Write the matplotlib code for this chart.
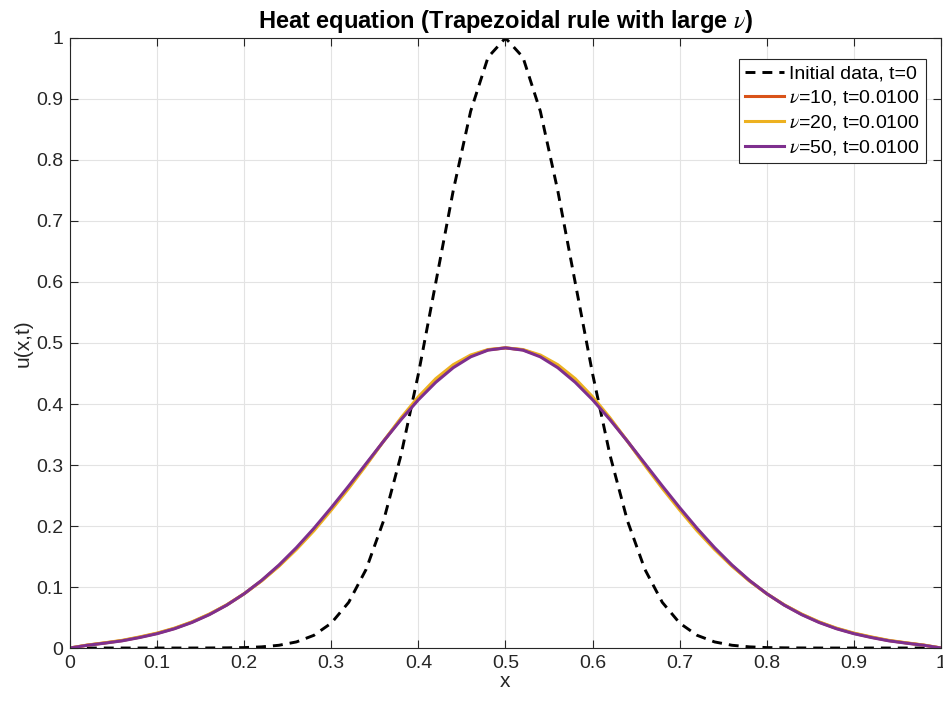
import numpy as np
import matplotlib
matplotlib.use("Agg")
import matplotlib.pyplot as plt

# grid points and values
x = [0.00, 0.02, 0.04, 0.06, 0.08, 0.10, 0.12, 0.14, 0.16, 0.18, 0.20,
     0.22, 0.24, 0.26, 0.28, 0.30, 0.32, 0.34, 0.36, 0.38, 0.40, 0.42,
     0.44, 0.46, 0.48, 0.50, 0.52, 0.54, 0.56, 0.58, 0.60, 0.62, 0.64,
     0.66, 0.68, 0.70, 0.72, 0.74, 0.76, 0.78, 0.80, 0.82, 0.84, 0.86,
     0.88, 0.90, 0.92, 0.94, 0.96, 0.98, 1.00]

u_init = [0, 0, 0, 0, 0, 0, 0, 0, 0.0001, 0.0003, 0.0007, 0.0019, 0.0045,
          0.0100, 0.0208, 0.0408, 0.0749, 0.1290, 0.2085, 0.3160, 0.4493,
          0.5993, 0.7498, 0.8799, 0.9685, 1.0, 0.9685, 0.8799, 0.7498,
          0.5993, 0.4493, 0.3160, 0.2085, 0.1290, 0.0749, 0.0408, 0.0208,
          0.0100, 0.0045, 0.0019, 0.0007, 0.0003, 0.0001, 0, 0, 0, 0, 0, 0,
          0, 0]

u_nu10 = [0, 0.0047, 0.0083, 0.0122, 0.0177, 0.0240, 0.0321, 0.0424,
          0.0552, 0.0706, 0.0890, 0.1104, 0.1351, 0.1631, 0.1941, 0.2281,
          0.2637, 0.3009, 0.3390, 0.3757, 0.4094, 0.4386, 0.4620, 0.4788,
          0.4888, 0.4920, 0.4888, 0.4788, 0.4620, 0.4386, 0.4094, 0.3757,
          0.3390, 0.3009, 0.2637, 0.2281, 0.1941, 0.1631, 0.1351, 0.1104,
          0.0890, 0.0706, 0.0552, 0.0424, 0.0321, 0.0240, 0.0177, 0.0122,
          0.0083, 0.0047, 0]
u_nu20 = [0, 0.0049, 0.0086, 0.0126, 0.0182, 0.0245, 0.0326, 0.0429,
          0.0557, 0.0708, 0.0890, 0.1099, 0.1341, 0.1616, 0.1921, 0.2261,
          0.2617, 0.2994, 0.3390, 0.3772, 0.4119, 0.4416, 0.4645, 0.4803,
          0.4893, 0.4920, 0.4893, 0.4803, 0.4645, 0.4416, 0.4119, 0.3772,
          0.3390, 0.2994, 0.2617, 0.2261, 0.1921, 0.1616, 0.1341, 0.1099,
          0.0890, 0.0708, 0.0557, 0.0429, 0.0326, 0.0245, 0.0182, 0.0126,
          0.0086, 0.0049, 0]
u_nu50 = [0, 0.0045, 0.0080, 0.0118, 0.0172, 0.0235, 0.0316, 0.0419,
          0.0547, 0.0703, 0.0890, 0.1109, 0.1361, 0.1646, 0.1961, 0.2301,
          0.2657, 0.3024, 0.3390, 0.3742, 0.4069, 0.4356, 0.4595, 0.4773,
          0.4883, 0.4920, 0.4883, 0.4773, 0.4595, 0.4356, 0.4069, 0.3742,
          0.3390, 0.3024, 0.2657, 0.2301, 0.1961, 0.1646, 0.1361, 0.1109,
          0.0890, 0.0703, 0.0547, 0.0419, 0.0316, 0.0235, 0.0172, 0.0118,
          0.0080, 0.0045, 0]

nus = [10, 20, 50]
t_final = 0.01
colors = ["#D95319", "#EDB120", "#7E2F8E"]
tick_vals = [0, 0.1, 0.2, 0.3, 0.4, 0.5, 0.6, 0.7, 0.8, 0.9, 1]
tick_labels = ["0", "0.1", "0.2", "0.3", "0.4", "0.5", "0.6", "0.7", "0.8",
               "0.9", "1"]

plt.rcParams["font.family"] = ["Liberation Sans", "DejaVu Sans"]
plt.rcParams["mathtext.fontset"] = "stix"

fig = plt.figure(figsize=(9.43, 7.02), dpi=100)
ax = fig.add_axes([0.0742, 0.0769, 0.9237, 0.869])

ax.plot(x, u_init, color="black", lw=2.1, dashes=(3.4, 2.4),
        label="Initial data, t=0")
for nu, u, c in zip(nus, [u_nu10, u_nu20, u_nu50], colors):
    ax.plot(x, u, "-", color=c, lw=2.2,
            label=r"$\nu$=%d, t=%.4f" % (nu, t_final))

ax.set_xlim(0, 1)
ax.set_ylim(0, 1)
ax.set_xticks(tick_vals)
ax.set_yticks(tick_vals)
ax.set_xticklabels(tick_labels)
ax.set_yticklabels(tick_labels)
ax.tick_params(direction="in", top=True, right=True, length=6, width=0.8,
               labelsize=14, colors="#262626", pad=5)
ax.grid(True, color="#e3e3e3", lw=0.8)
ax.set_axisbelow(True)
for s in ax.spines.values():
    s.set_color("#262626")
    s.set_linewidth(0.8)

ax.set_xlabel("x", fontsize=15, color="#262626", labelpad=0)
ax.set_ylabel("u(x,t)", fontsize=15, color="#262626", labelpad=2)
ax.set_title(r"Heat equation (Trapezoidal rule with large $\nu$)",
             fontsize=17, fontweight="bold", pad=7)

leg = ax.legend(loc="upper right", bbox_to_anchor=(0.9828, 0.9656),
                borderaxespad=0, fontsize=14, fancybox=False,
                framealpha=1, edgecolor="#262626", handlelength=2.0,
                borderpad=0.3, labelspacing=0.3, handletextpad=0.3)
leg.get_frame().set_linewidth(0.8)

fig.savefig("out.png", dpi=100)
